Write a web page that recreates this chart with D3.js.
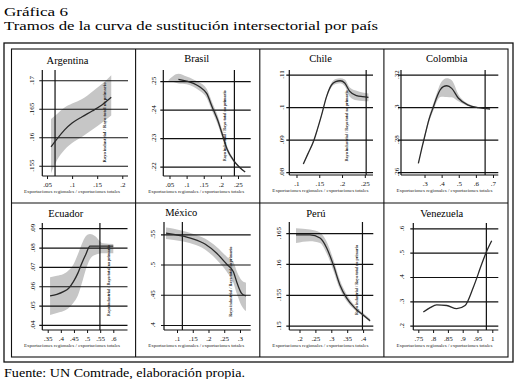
<!DOCTYPE html>
<html><head><meta charset="utf-8">
<script src="https://cdn.jsdelivr.net/npm/d3@7"></script>
<style>body{margin:0;background:#fff}svg{display:block}</style>
</head><body>
<svg id="c" width="522" height="379"></svg>
<script>
// ---------- DATA ----------
const titleLine1 = "Gráfica 6";
const titleLine2 = "Tramos de la curva de sustitución intersectorial por país";
const sourceText = "Fuente: UN Comtrade, elaboración propia.";
const xAxisTitle = "Exportaciones regionales / exportaciones totales";
const countries = ["Argentina","Brasil","Chile","Colombia","Ecuador","México","Perú","Venezuela"];
const noteText = "Rayo industrial / Rayo total no primario";

// Argentina
const argX  = [.058,.07,.085,.1,.12,.14,.16,.178];
const argY  = [.1583,.1597,.1613,.1625,.1636,.1646,.1657,.1670];
const argLo = [.1537,.1560,.1578,.1590,.1601,.1613,.1626,.1638];
const argHi = [.1632,.1641,.1652,.1659,.1667,.1680,.1694,.1709];
const argXTicks = [.05,.1,.15,.2];
const argYTicks = [.155,.16,.165,.17];
// Brasil
const braX  = [.046,.076,.10,.12,.139,.159,.175,.19,.205,.218,.237,.255,.271];
const braY  = [null,.2506,.2500,.2492,.2479,.2456,.2408,.2365,.2310,.2262,.2222,.2197,.2181];
const braLo = [.2502,.2492,.2489,.2480,.2465,.2440,.2393,.2350,.2297,.2252,.2217,.2194,.2180];
const braHi = [.2502,.2526,.2516,.2506,.2494,.2472,.2424,.2381,.2323,.2272,.2227,.2200,.2182];
const braXTicks = [.05,.1,.15,.2,.25];
const braYTicks = [.22,.23,.24,.25];
// Chile
const chiX  = [.115,.125,.137,.146,.155,.166,.177,.186,.196,.206,.217,.232,.245,.258];
const chiY  = [.0825,.0856,.0893,.0932,.0975,.1032,.1068,.1078,.1081,.1074,.1048,.1035,.1032,.1030];
const chiLo = [.0822,.0853,.0890,.0929,.0971,.1027,.1061,.1071,.1073,.1064,.1032,.1021,.1019,.1018];
const chiHi = [.0828,.0859,.0896,.0935,.0979,.1037,.1075,.1086,.1089,.1085,.1060,.1050,.1045,.1042];
const chiXTicks = [.1,.15,.2,.25];
const chiYTicks = [.08,.09,.1,.11];
// Colombia
const colX  = [.264,.285,.303,.325,.352,.375,.391,.41,.43,.459,.498,.556,.615,.683];
const colY  = [.2654,.2750,.2828,.2920,.3002,.3070,.3105,.3126,.3131,.3115,.3054,.3012,.2996,.2988];
const colLo = [.2650,.2743,.2815,.2902,.2980,.3040,.3062,.3064,.3062,.3060,.3035,.3005,.2992,.2986];
const colHi = [.2658,.2757,.2840,.2938,.3024,.3095,.3140,.3168,.3177,.3165,.3078,.3020,.3000,.2990];
const colXTicks = [.3,.4,.5,.6,.7];
const colYTicks = [.26,.28,.3,.32];
// Ecuador
const ecuX  = [.359,.385,.41,.43,.448,.465,.48,.495,.511,.53,.56,.60];
const ecuY  = [.0550,.0558,.0572,.0590,.0624,.0668,.0719,.0764,.0807,.0807,.0807,.0807];
const ecuLo = [.0452,.0462,.0472,.0488,.0515,.0552,.0615,.0685,.0740,.0762,.0771,.0771];
const ecuHi = [.0647,.0655,.0664,.0683,.0713,.0765,.0818,.0858,.0870,.0860,.0822,.0819];
const ecuXTicks = [.35,.4,.45,.5,.55,.6];
const ecuYTicks = [.04,.05,.06,.07,.08,.09];
// México
const mexX  = [.065,.09,.11,.15,.19,.226,.258,.279,.291,.305,.319];
const mexY  = [.5518,.5497,.5477,.5424,.5335,.5186,.5004,.4881,.4690,.4524,.4480];
const mexLo = [.5420,.5405,.5390,.5340,.5245,.5080,.4880,.4700,.4500,.4320,.4230];
const mexHi = [.5610,.5590,.5565,.5510,.5425,.5290,.5130,.5040,.4870,.4740,.4700];
const mexXTicks = [.1,.15,.2,.25,.3];
const mexYTicks = [.4,.45,.5,.55];
// Perú
const perX  = [.189,.233,.2645,.2855,.306,.327,.348,.375,.401,.422];
const perY  = [.1647,.1647,.1642,.1626,.1599,.1566,.1545,.1528,.1517,.1508];
const perLo = [.1634,.1637,.1634,.1617,.1590,.1559,.1540,.1525,.1515,.1506];
const perHi = [.1658,.1656,.1651,.1636,.1608,.1574,.1551,.1532,.1520,.1511];
const perXTicks = [.2,.25,.3,.35,.4];
const perYTicks = [.15,.155,.16,.165];
// Venezuela
const venX  = [.767,.79,.812,.846,.88,.908,.936,.964,.979,.998];
const venY  = [.256,.274,.2856,.283,.270,.283,.358,.452,.500,.549];
const venXTicks = [.75,.8,.85,.9,.95,1];
const venYTicks = [.2,.3,.4,.5,.6];

// vertical reference values (xline) per country
const thresholds = [.066,.2395,.253,.654,.549,.117,.398,.98];
// annotation anchor (data coords) per country; null = none
const noteXs = [.1641,.21,.2102,null,.581,.2683,.38,null];
const noteYs = [.1626,.2343,.0942,null,.0629,.4716,.1574,null];

// ---------- LAYOUT ----------
const series = [
  {x:argX,y:argY,lo:argLo,hi:argHi,xt:argXTicks,yt:argYTicks},
  {x:braX,y:braY,lo:braLo,hi:braHi,xt:braXTicks,yt:braYTicks},
  {x:chiX,y:chiY,lo:chiLo,hi:chiHi,xt:chiXTicks,yt:chiYTicks},
  {x:colX,y:colY,lo:colLo,hi:colHi,xt:colXTicks,yt:colYTicks},
  {x:ecuX,y:ecuY,lo:ecuLo,hi:ecuHi,xt:ecuXTicks,yt:ecuYTicks},
  {x:mexX,y:mexY,lo:mexLo,hi:mexHi,xt:mexXTicks,yt:mexYTicks},
  {x:perX,y:perY,lo:perLo,hi:perHi,xt:perXTicks,yt:perYTicks},
  {x:venX,y:venY,lo:null,hi:null,xt:venXTicks,yt:venYTicks}
];
// pixel frame of each plot region and the data values at its edges
const layout = [
  {l:42.3,r:128,t:70,b:176,xd:[.0406,.2114],yd:[.1532,.1718],tx:67.5,ty:64,yo:8,noteLen:80},
  {l:163.3,r:250.7,t:70,b:176,xd:[.0319,.2871],yd:[.2167,.2539],tx:196.7,ty:62,yo:7,noteLen:71},
  {l:289.3,r:373,t:70,b:175,xd:[.0842,.268],yd:[.0791,.1114],tx:320.5,ty:62,yo:5.5,noteLen:71},
  {l:401,r:498.3,t:70,b:175,xd:[.1626,.731],yd:[.2582,.3228],tx:446.7,ty:62,yo:2.5,noteLen:0},
  {l:42.3,r:127.5,t:223,b:330,xd:[.3294,.6541],yd:[.0374,.0927],tx:65.8,ty:216.5,yo:7.5,noteLen:71},
  {l:164,r:250.7,t:222,b:330,xd:[.0587,.334],yd:[.3917,.5703],tx:181.3,ty:215.5,yo:9,noteLen:70},
  {l:289.3,r:373.3,t:222,b:330,xd:[.1679,.4321],yd:[.1493,.1668],tx:315.8,ty:216.5,yo:8,noteLen:70},
  {l:413.3,r:498.3,t:223,b:330,xd:[.7331,1.0203],yd:[.1823,.6218],tx:441.7,ty:217,yo:9,noteLen:0}
];
const colEdges = [11.5,135.6,259.8,383.9,508];
const rowEdges = [49,203,357];

const SERIF = "'Liberation Serif','DejaVu Serif',serif";
const svg = d3.select("#c");
const fmt = d => { const s = String(+d.toFixed(4)); return s.startsWith("0.") ? s.slice(1) : s; };

// titles
svg.append("text").attr("x",4).attr("y",15.5).attr("font-family",SERIF).attr("font-size",13)
  .attr("textLength",64).attr("lengthAdjust","spacingAndGlyphs").text(titleLine1);
svg.append("text").attr("x",4).attr("y",30).attr("font-family",SERIF).attr("font-size",13)
  .attr("textLength",374).attr("lengthAdjust","spacingAndGlyphs").text(titleLine2);
svg.append("text").attr("x",4).attr("y",376.5).attr("font-family",SERIF).attr("font-size",13.5)
  .attr("textLength",241).attr("lengthAdjust","spacingAndGlyphs").text(sourceText);

// frames
svg.append("rect").attr("x",4).attr("y",43).attr("width",509).attr("height",319)
  .attr("fill","none").attr("stroke","#111").attr("stroke-width",1.3);
svg.append("rect").attr("x",colEdges[0]).attr("y",rowEdges[0]).attr("width",colEdges[4]-colEdges[0])
  .attr("height",rowEdges[2]-rowEdges[0]).attr("fill","none").attr("stroke","#111").attr("stroke-width",1.1);
[1,2,3].forEach(i=>svg.append("line").attr("x1",colEdges[i]).attr("x2",colEdges[i])
  .attr("y1",rowEdges[0]).attr("y2",rowEdges[2]).attr("stroke","#111").attr("stroke-width",1.1));
svg.append("line").attr("x1",colEdges[0]).attr("x2",colEdges[4]).attr("y1",rowEdges[1]).attr("y2",rowEdges[1])
  .attr("stroke","#111").attr("stroke-width",1.1);

countries.forEach((name,i)=>{
  const L = layout[i], S = series[i];
  const col = i%4;
  const pc = (colEdges[col]+colEdges[col+1])/2;
  const x = d3.scaleLinear().domain(L.xd).range([L.l,L.r]);
  const y = d3.scaleLinear().domain(L.yd).range([L.b,L.t]);
  const g = svg.append("g");

  // title
  g.append("text").attr("x",L.tx).attr("y",L.ty).attr("text-anchor","middle")
    .attr("font-family",SERIF).attr("font-size",10.5).text(name);

  // band
  if (S.lo) {
    const pts = S.x.map((v,k)=>({x:v,lo:S.lo[k],hi:S.hi[k]}));
    g.append("path").datum(pts).attr("fill","#c6c6c6")
      .attr("d",d3.area().x(d=>x(d.x)).y0(d=>y(d.lo)).y1(d=>y(d.hi)).curve(d3.curveMonotoneX));
  }

  // gridlines at y ticks (with outward tick)
  const ya = d3.axisLeft(y).tickValues(S.yt).tickSize(-(L.r-L.l)).tickFormat("");
  const yg = g.append("g").attr("transform",`translate(${L.l},0)`).call(ya);
  yg.select(".domain").remove();
  yg.selectAll(".tick line").attr("x1",-3).attr("stroke","#111").attr("stroke-width",1.2);

  // y tick labels (rotated)
  g.selectAll(".ylab").data(S.yt).join("text")
    .attr("transform",d=>`translate(${L.l-L.yo},${y(d)}) rotate(-90)`)
    .attr("text-anchor","middle").attr("font-family",SERIF).attr("font-size",7).text(fmt);

  // x axis
  const xa = d3.axisBottom(x).tickValues(S.xt).tickSize(3).tickFormat(fmt);
  const xg = g.append("g").attr("transform",`translate(0,${L.b})`).call(xa);
  xg.select(".domain").remove();
  xg.selectAll(".tick line").attr("stroke","#111").attr("stroke-width",1);
  xg.selectAll(".tick text").attr("font-family",SERIF).attr("font-size",7).attr("y",6.5).attr("dy","0.71em").attr("fill","#111");
  g.append("line").attr("x1",L.l).attr("x2",L.r).attr("y1",L.b).attr("y2",L.b).attr("stroke","#111").attr("stroke-width",1.2);
  g.append("line").attr("x1",L.l).attr("x2",L.l).attr("y1",L.t).attr("y2",L.b).attr("stroke","#111").attr("stroke-width",1.2);

  // x axis title
  g.append("text").attr("x",pc-1.5).attr("y",L.b+16.5).attr("text-anchor","middle")
    .attr("font-family",SERIF).attr("font-size",4.6).attr("textLength",96).attr("lengthAdjust","spacingAndGlyphs")
    .attr("fill","#222").text(xAxisTitle);

  // vertical threshold line
  g.append("line").attr("x1",x(thresholds[i])).attr("x2",x(thresholds[i]))
    .attr("y1",L.t).attr("y2",L.b).attr("stroke","#111").attr("stroke-width",1.2);

  // fitted line
  const lp = S.x.map((v,k)=>({x:v,y:S.y[k]}));
  g.append("path").datum(lp).attr("fill","none").attr("stroke","#2a2a2a").attr("stroke-width",1.3)
    .attr("d",d3.line().defined(d=>d.y!=null).x(d=>x(d.x)).y(d=>y(d.y)).curve(d3.curveMonotoneX));

  // rotated annotation
  if (noteXs[i]!=null) {
    g.append("text").attr("transform",`translate(${x(noteXs[i])+1.5},${y(noteYs[i])}) rotate(-90)`)
      .attr("text-anchor","middle").attr("font-family",SERIF).attr("font-size",4.2).attr("font-weight","bold")
      .attr("textLength",L.noteLen).attr("lengthAdjust","spacingAndGlyphs").attr("fill","#222").text(noteText);
  }
});
</script>
</body></html>
